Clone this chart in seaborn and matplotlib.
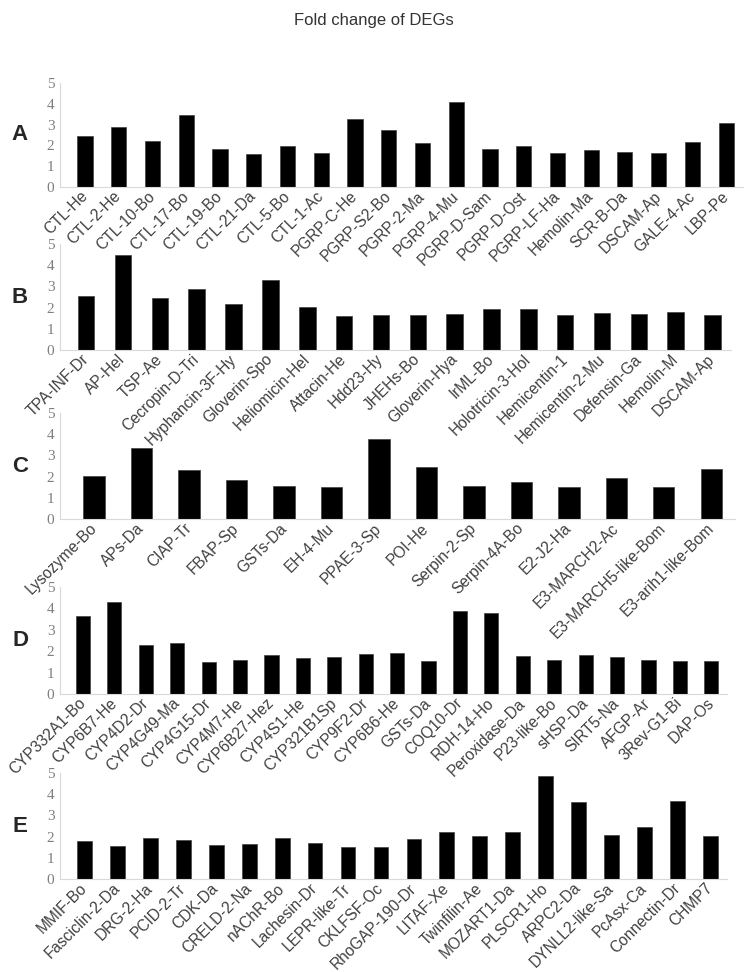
import matplotlib
matplotlib.use("Agg")
import matplotlib.pyplot as plt
import seaborn as sns
import numpy as np

# ---------------- data ----------------
genes_A = ["CTL-He", "CTL-2-He", "CTL-10-Bo", "CTL-17-Bo", "CTL-19-Bo", "CTL-21-Da",
           "CTL-5-Bo", "CTL-1-Ac", "PGRP-C-He", "PGRP-S2-Bo", "PGRP-2-Ma", "PGRP-4-Mu",
           "PGRP-D-Sam", "PGRP-D-Ost", "PGRP-LF-Ha", "Hemolin-Ma", "SCR-B-Da", "DSCAM-Ap",
           "GALE-4-Ac", "LBP-Pe"]
fc_A = [2.47, 2.87, 2.21, 3.46, 1.83, 1.59, 1.97, 1.62, 3.25, 2.74, 2.12, 4.09,
        1.82, 1.96, 1.64, 1.77, 1.67, 1.62, 2.15, 3.06]

genes_B = ["TPA-INF-Dr", "AP-Hel", "TSP-Ae", "Cecropin-D-Tri", "Hyphancin-3F-Hy",
           "Gloverin-Spo", "Heliomicin-Hel", "Attacin-He", "Hdd23-Hy", "JHEHs-Bo",
           "Gloverin-Hya", "IrML-Bo", "Holotricin-3-Hol", "Hemicentin-1",
           "Hemicentin-2-Mu", "Defensin-Ga", "Hemolin-M", "DSCAM-Ap"]
fc_B = [2.57, 4.50, 2.46, 2.89, 2.19, 3.30, 2.03, 1.59, 1.66, 1.64,
        1.72, 1.92, 1.92, 1.66, 1.74, 1.69, 1.81, 1.66]

genes_C = ["Lysozyme-Bo", "APs-Da", "CIAP-Tr", "FBAP-Sp", "GSTs-Da", "EH-4-Mu",
           "PPAE-3-Sp", "POI-He", "Serpin-2-Sp", "Serpin-4A-Bo", "E2-J2-Ha",
           "E3-MARCH2-Ac", "E3-MARCH5-like-Bom", "E3-arih1-like-Bom"]
fc_C = [2.04, 3.35, 2.30, 1.84, 1.56, 1.53, 3.77, 2.44, 1.54, 1.73, 1.53,
        1.93, 1.51, 2.36]

genes_D = ["CYP332A1-Bo", "CYP6B7-He", "CYP4D2-Dr", "CYP4G49-Ma", "CYP4G15-Dr",
           "CYP4M7-He", "CYP6B27-Hez", "CYP4S1-He", "CYP321B1Sp", "CYP9F2-Dr",
           "CYP6B6-He", "GSTs-Da", "COQ10-Dr", "RDH-14-Ho", "Peroxidase-Da",
           "P23-like-Bo", "sHSP-Da", "SIRT5-Na", "AFGP-Ar", "3Rev-G1-Bi", "DAP-Os"]
fc_D = [3.63, 4.31, 2.31, 2.37, 1.51, 1.59, 1.84, 1.70, 1.73, 1.85,
        1.93, 1.56, 3.88, 3.79, 1.79, 1.57, 1.82, 1.73, 1.60, 1.56, 1.53]

genes_E = ["MMIF-Bo", "Fasciclin-2-Da", "DRG-2-Ha", "PCID-2-Tr", "CDK-Da",
           "CRELD-2-Na", "nAChR-Bo", "Lachesin-Dr", "LEPR-like-Tr", "CKLFSF-Oc",
           "RhoGAP-190-Dr", "LITAF-Xe", "Twinfilin-Ae", "MOZART1-Da", "PLSCR1-Ho",
           "ARPC2-Da", "DYNLL2-like-Sa", "PcAsx-Ca", "Connectin-Dr", "CHMP7"]
fc_E = [1.79, 1.55, 1.95, 1.85, 1.62, 1.65, 1.93, 1.71, 1.52, 1.51,
        1.88, 2.21, 2.05, 2.21, 4.88, 3.65, 2.07, 2.43, 3.69, 2.02]

panel_letters = ["A", "B", "C", "D", "E"]
y_ticks = [0, 1, 2, 3, 4, 5]
title = "Fold change of DEGs"

# ---------------- layout (pixels) ----------------
W, H = 747, 972
# (left, right, top(y=5), bottom(y=0)) in px ; xlim pads
layout = [
    (60, 743, 83, 187, -0.74, 0.29),
    (60, 731, 244, 350, -0.71, 0.31),
    (60, 735, 413, 519, -0.72, 0.28),
    (60, 727, 587, 694, -0.73, 0.28),
    (60, 727, 773, 879, -0.74, 0.24),
]

sns.set_style("white")
plt.rcParams["font.family"] = ["Liberation Sans", "DejaVu Sans"]

fig = plt.figure(figsize=(W / 100, H / 100), dpi=100)
fig.text(0.5, 1 - 20 / H, title, ha="center", va="center",
         fontsize=12, color="#333333", family=["Liberation Sans", "DejaVu Sans"])

panels = [(genes_A, fc_A), (genes_B, fc_B), (genes_C, fc_C), (genes_D, fc_D), (genes_E, fc_E)]
spine_col = "#d9d9d9"

for (genes, vals), letter, (l, r, t, b, lp, rp) in zip(panels, panel_letters, layout):
    ax = fig.add_axes([l / W, 1 - b / H, (r - l) / W, (b - t) / H])
    ax.set_facecolor("none")
    sns.barplot(x=genes, y=vals, color="black", width=0.45, saturation=1,
                edgecolor="#404040", linewidth=0.5, ax=ax)
    n = len(genes)
    ax.set_xlim(lp, n - 1 + rp)
    ax.set_ylim(0, 5)
    ax.set_yticks(y_ticks)
    ax.set_yticklabels([str(v) for v in y_ticks], family=["Liberation Serif", "DejaVu Serif"],
                       fontsize=11, color="#7f7f7f")
    ax.set_xticks(range(n))
    ax.set_xticklabels(genes, rotation=45, ha="right", va="center",
                       rotation_mode="anchor", fontsize=11.2, color="#404040")
    ax.set_xticks(np.arange(n + 1) - 0.5, minor=True)
    ax.tick_params(axis="x", which="major", length=0, pad=5)
    ax.tick_params(axis="x", which="minor", length=3, color=spine_col, width=0.8)
    ax.tick_params(axis="y", length=0, pad=4)
    ax.set_xlabel("")
    ax.set_ylabel("")
    for s in ["top", "right"]:
        ax.spines[s].set_visible(False)
    for s in ["left", "bottom"]:
        ax.spines[s].set_color(spine_col)
        ax.spines[s].set_linewidth(0.8)
    ax.grid(False)
    fig.text(20 / W, 1 - (t + b) / 2 / H, letter, ha="center", va="center",
             fontsize=16, fontweight="bold", color="#262626")

fig.savefig("out.png", dpi=100)
